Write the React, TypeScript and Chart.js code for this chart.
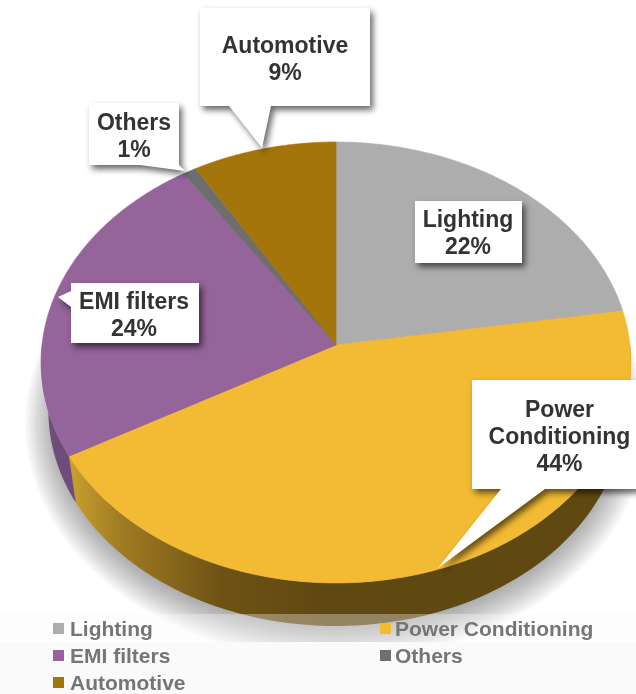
import React, { useEffect, useRef } from "react";
import { Chart, registerables, ArcElement, PieController } from "chart.js";

const categories = ["Lighting", "Power Conditioning", "EMI filters", "Others", "Automotive"];
const shares = [22.49, 44.4, 23.8, 0.8, 8.51];
const sliceColors = ["#adadad", "#f3bb33", "#95649a", "#6e6e6e", "#a4750a"];
const wallColors = ["#7a7a7a", "#604811", "#6e4c7c", "#555555", "#7a5708"];

// Layout of the callouts (category index, box, pointer, text lines)
const callouts = [
  { i: 4, box: [200, 8, 370, 106], ptr: [[229, 106], [262, 148], [271, 106]], lines: ["Automotive"], cx: 285, y0: 47 },
  { i: 3, box: [89, 103, 179, 165], ptr: [[140, 165], [185, 171], [179, 165]], lines: ["Others"], cx: 134, y0: 124 },
  { i: 2, box: [71, 283, 199, 343], ptr: [[71, 291], [58, 297], [71, 307]], lines: ["EMI filters"], cx: 134, y0: 303 },
  { i: 0, box: [415, 201, 522, 263], ptr: null, lines: ["Lighting"], cx: 468, y0: 221 },
  { i: 1, box: [472, 380, 640, 489], ptr: [[501, 489], [438, 568], [545, 489]], lines: ["Power", "Conditioning"], cx: 559.5, y0: 411 },
];
const legendSlots = [[53, 630, 17], [380, 630, 15], [53, 657, 17], [380, 657, 15], [53, 684, 17]];

const K = 0.7452;
const P = 0.0793;
const RING = 0.975;
const DEPTH = 49;
function project(el: any, a: number) {
  const u = Math.cos(a), v = Math.sin(a);
  const w = 1 - P * v;
  return [el.x + (el.outerRadius * u) / w, el.y + (el.outerRadius * K * v) / w];
}
function projectLower(el: any, a: number) {
  const p = project(el, a);
  return [el.x + (p[0] - el.x) * RING, el.y + (p[1] - el.y) * RING + DEPTH];
}

class Arc3D extends ArcElement {
  static id = "arc3d";
  draw(ctx: CanvasRenderingContext2D) {
    const el: any = this;
    const color = el.options.backgroundColor;
    ctx.save();
    ctx.beginPath();
    ctx.moveTo(el.x, el.y);
    const n = 120;
    for (let s = 0; s <= n; s++) {
      const p = project(el, el.startAngle + ((el.endAngle - el.startAngle) * s) / n);
      ctx.lineTo(p[0], p[1]);
    }
    ctx.closePath();
    ctx.fillStyle = color;
    ctx.fill();
    ctx.strokeStyle = color;
    ctx.lineWidth = 0.6;
    ctx.stroke();
    ctx.restore();
  }
}

class Pie3D extends PieController {
  static id = "pie3d";
  static defaults = { ...PieController.defaults, dataElementType: "arc3d" };
}

Chart.register(...registerables, Arc3D, Pie3D);

const wallPlugin = {
  id: "wall",
  beforeDatasetsDraw(chart: any) {
    const ctx: CanvasRenderingContext2D = chart.ctx;
    const arcs: any[] = chart.getDatasetMeta(0).data;
    const first = arcs[0];
    // Soft shadow under the disc: a stack of faint, growing outlines
    ctx.save();
    ctx.beginPath();
    ctx.rect(0, 0, 636, 642);
    ctx.clip();
    ctx.fillStyle = "rgba(0,0,0,0.03)";
    for (let e = -18; e <= 18; e += 2.4) {
      ctx.beginPath();
      for (let s = 0; s <= 180; s++) {
        const p = project(first, (s / 180) * Math.PI * 2);
        const sx = first.x + (p[0] - first.x) * (1 + e / first.outerRadius);
        const sy = first.y + (p[1] - first.y) * (1 + e / (first.outerRadius * K)) + 60;
        if (s === 0) ctx.moveTo(sx, sy);
        else ctx.lineTo(sx, sy);
      }
      ctx.closePath();
      ctx.fill();
    }
    ctx.restore();

    // Side wall of each slice on the near half
    arcs.forEach((el, i) => {
      const a0 = Math.max(el.startAngle, 0);
      const a1 = Math.min(el.endAngle, Math.PI);
      if (a1 <= a0) return;
      ctx.save();
      ctx.beginPath();
      const n = 120;
      for (let s = 0; s <= n; s++) {
        const p = project(el, a0 + ((a1 - a0) * s) / n);
        if (s === 0) ctx.moveTo(p[0], p[1]);
        else ctx.lineTo(p[0], p[1]);
      }
      for (let s = n; s >= 0; s--) {
        const p = projectLower(el, a0 + ((a1 - a0) * s) / n);
        ctx.lineTo(p[0], p[1]);
      }
      ctx.closePath();
      if (i === 1) {
        const g = ctx.createLinearGradient(70, 0, 320, 0);
        g.addColorStop(0, "#c9a02f");
        g.addColorStop(0.2, "#a07c22");
        g.addColorStop(0.6, "#6f5315");
        g.addColorStop(1, wallColors[1]);
        ctx.fillStyle = g;
      } else {
        ctx.fillStyle = wallColors[i];
      }
      ctx.fill();
      ctx.restore();
    });
  },
};

function area(pts: number[][]) {
  let s = 0;
  pts.forEach((p, i) => {
    const q = pts[(i + 1) % pts.length];
    s += p[0] * q[1] - q[0] * p[1];
  });
  return s;
}

const overlayPlugin = {
  id: "overlay",
  afterDraw(chart: any) {
    const ctx: CanvasRenderingContext2D = chart.ctx;
    const labels: string[] = chart.data.labels;
    const data: number[] = chart.data.datasets[0].data;
    const colors: string[] = chart.data.datasets[0].backgroundColor;

    // Legend band
    ctx.save();
    ctx.fillStyle = "rgba(249,249,249,0.34)";
    ctx.fillRect(0, 614, 636, 28);
    ctx.fillStyle = "#fafafa";
    ctx.fillRect(0, 642, 636, 52);
    ctx.restore();

    // Legend
    ctx.save();
    ctx.font = "bold 21px 'Liberation Sans'";
    ctx.textBaseline = "middle";
    ctx.textAlign = "left";
    labels.forEach((t, i) => {
      const [x, y, off] = legendSlots[i];
      ctx.fillStyle = colors[i];
      ctx.fillRect(x, y - 7, 11, 11);
      ctx.fillStyle = "#757575";
      ctx.fillText(t, x + off, y);
    });
    ctx.restore();

    // Callouts
    callouts.forEach((c) => {
      const [x0, y0, x1, y1] = c.box;
      const boxPts = [[x0, y0], [x1, y0], [x1, y1], [x0, y1]];
      const tracePath = () => {
        ctx.beginPath();
        boxPts.forEach((p, k) => (k ? ctx.lineTo(p[0], p[1]) : ctx.moveTo(p[0], p[1])));
        ctx.closePath();
        if (c.ptr) {
          const pts = area(c.ptr) > 0 ? c.ptr : [...c.ptr].reverse();
          pts.forEach((p, k) => (k ? ctx.lineTo(p[0], p[1]) : ctx.moveTo(p[0], p[1])));
          ctx.closePath();
        }
      };
      ctx.save();
      tracePath();
      ctx.shadowColor = "rgba(0,0,0,0.6)";
      ctx.shadowBlur = 6;
      ctx.shadowOffsetX = 3;
      ctx.shadowOffsetY = 4;
      ctx.fillStyle = "#ffffff";
      ctx.fill("nonzero");
      ctx.restore();

      ctx.save();
      ctx.fillStyle = "#333333";
      ctx.font = "bold 23px 'Liberation Sans'";
      ctx.textAlign = "center";
      ctx.textBaseline = "middle";
      const text = [...c.lines, `${Math.round(data[c.i])}%`];
      text.forEach((t, k) => ctx.fillText(t, c.cx, c.y0 + k * 27));
      ctx.restore();
    });
  },
};

export default function App() {
  const ref = useRef<HTMLCanvasElement>(null);
  useEffect(() => {
    document.body.style.margin = "0";
    document.body.style.background = "#ffffff";
    const chart = new Chart(ref.current!, {
      type: "pie3d" as any,
      data: {
        labels: categories,
        datasets: [{ data: shares, backgroundColor: sliceColors, borderWidth: 0 }],
      },
      options: {
        responsive: false,
        animation: false,
        devicePixelRatio: 1,
        layout: { padding: { left: 42, right: 6, top: 51, bottom: 55 } },
        plugins: { legend: { display: false }, tooltip: { enabled: false } },
      },
      plugins: [wallPlugin, overlayPlugin],
    } as any);
    return () => chart.destroy();
  }, []);
  return <canvas ref={ref} width={636} height={694} style={{ display: "block" }} />;
}
